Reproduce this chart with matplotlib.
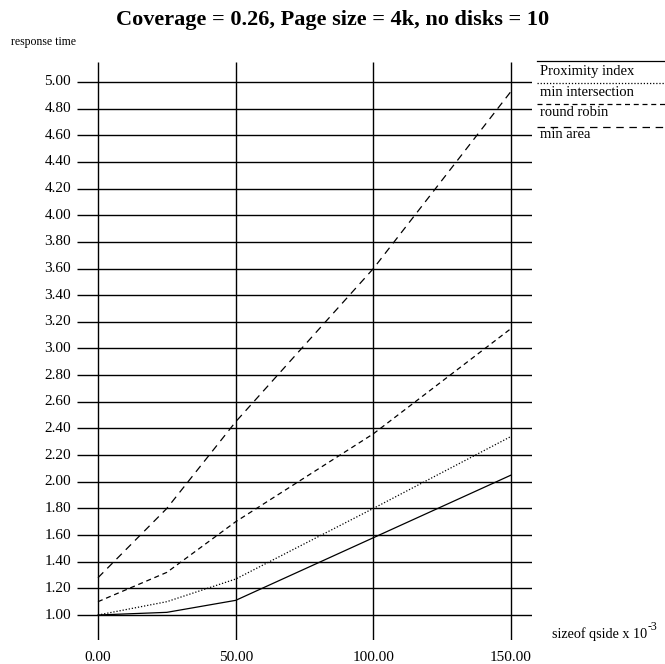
import matplotlib
matplotlib.use("Agg")
import matplotlib.pyplot as plt
from matplotlib.lines import Line2D

plt.rcParams['font.family'] = ['Liberation Serif', 'DejaVu Serif']

x_vals = [0, 25, 50, 100, 150]
proximity = [1.00, 1.02, 1.11, 1.58, 2.05]
min_intersection = [1.00, 1.10, 1.27, 1.80, 2.34]
round_robin = [1.10, 1.32, 1.70, 2.36, 3.15]
min_area = [1.28, 1.80, 2.45, 3.60, 4.93]
series_names = ["Proximity index", "min intersection", "round robin", "min area"]
x_ticks = [0, 50, 100, 150]
y_ticks = [1.00 + 0.2 * i for i in range(21)]

W, H = 665, 664
fig = plt.figure(figsize=(W / 100, H / 100), dpi=100)

# axes region in pixels
L, R, T, B = 77, 532, 62, 640
ax = fig.add_axes([L / W, (H - B) / H, (R - L) / W, (B - T) / H])
xlim = (-7.63, 157.6)
ylim = (0.8124, 5.15)
ax.set_xlim(*xlim)
ax.set_ylim(*ylim)
ax.axis('off')

ax.hlines(y_ticks, xlim[0], xlim[1], colors='black', linewidth=1.0)
ax.vlines(x_ticks, ylim[0], ylim[1], colors='black', linewidth=1.0)

for y in y_ticks:
    ax.text(-9.8, y, f"{y:.2f}", ha='right', va='center', fontsize=11)
for x in x_ticks:
    ax.text(x, 0.68, f"{x:.2f}", ha='center', va='center', fontsize=11)

styles = [
    dict(linestyle='-'),
    dict(linestyle=(0, (1, 1.5))),
    dict(linestyle=(0, (4, 3))),
    dict(linestyle=(0, (6, 4.5))),
]
series = [proximity, min_intersection, round_robin, min_area]
for vals, st in zip(series, styles):
    ax.plot(x_vals, vals, color='black', linewidth=0.9, **st)

# title and axis labels
fig.text(0.5, 1 - 20 / H, "Coverage = 0.26, Page size = 4k, no disks = 10",
         ha='center', va='center', fontsize=16, fontweight='bold')
fig.text(11 / W, 1 - 42 / H, "response time", ha='left', va='center', fontsize=8.5)
xl = fig.text(552 / W, 1 - 634 / H, "sizeof qside x 10", ha='left', va='center', fontsize=10.2)
fig.canvas.draw()
bb = xl.get_window_extent()
fig.text(bb.x1 / W + 0.5 / W, 1 - 627 / H, "-3", ha='left', va='center', fontsize=8.5)

# legend: line above label
leg_line_y = [61, 83, 104, 127]
leg_text_y = [71, 92, 113, 135]
for name, st, ly, ty in zip(series_names, styles, leg_line_y, leg_text_y):
    fig.add_artist(Line2D([537 / W, 1.0], [1 - ly / H, 1 - ly / H],
                          transform=fig.transFigure, color='black', linewidth=0.9, **st))
    fig.text(540 / W, 1 - ty / H, name, ha='left', va='center', fontsize=10.5)

fig.savefig("out.png", dpi=100)
